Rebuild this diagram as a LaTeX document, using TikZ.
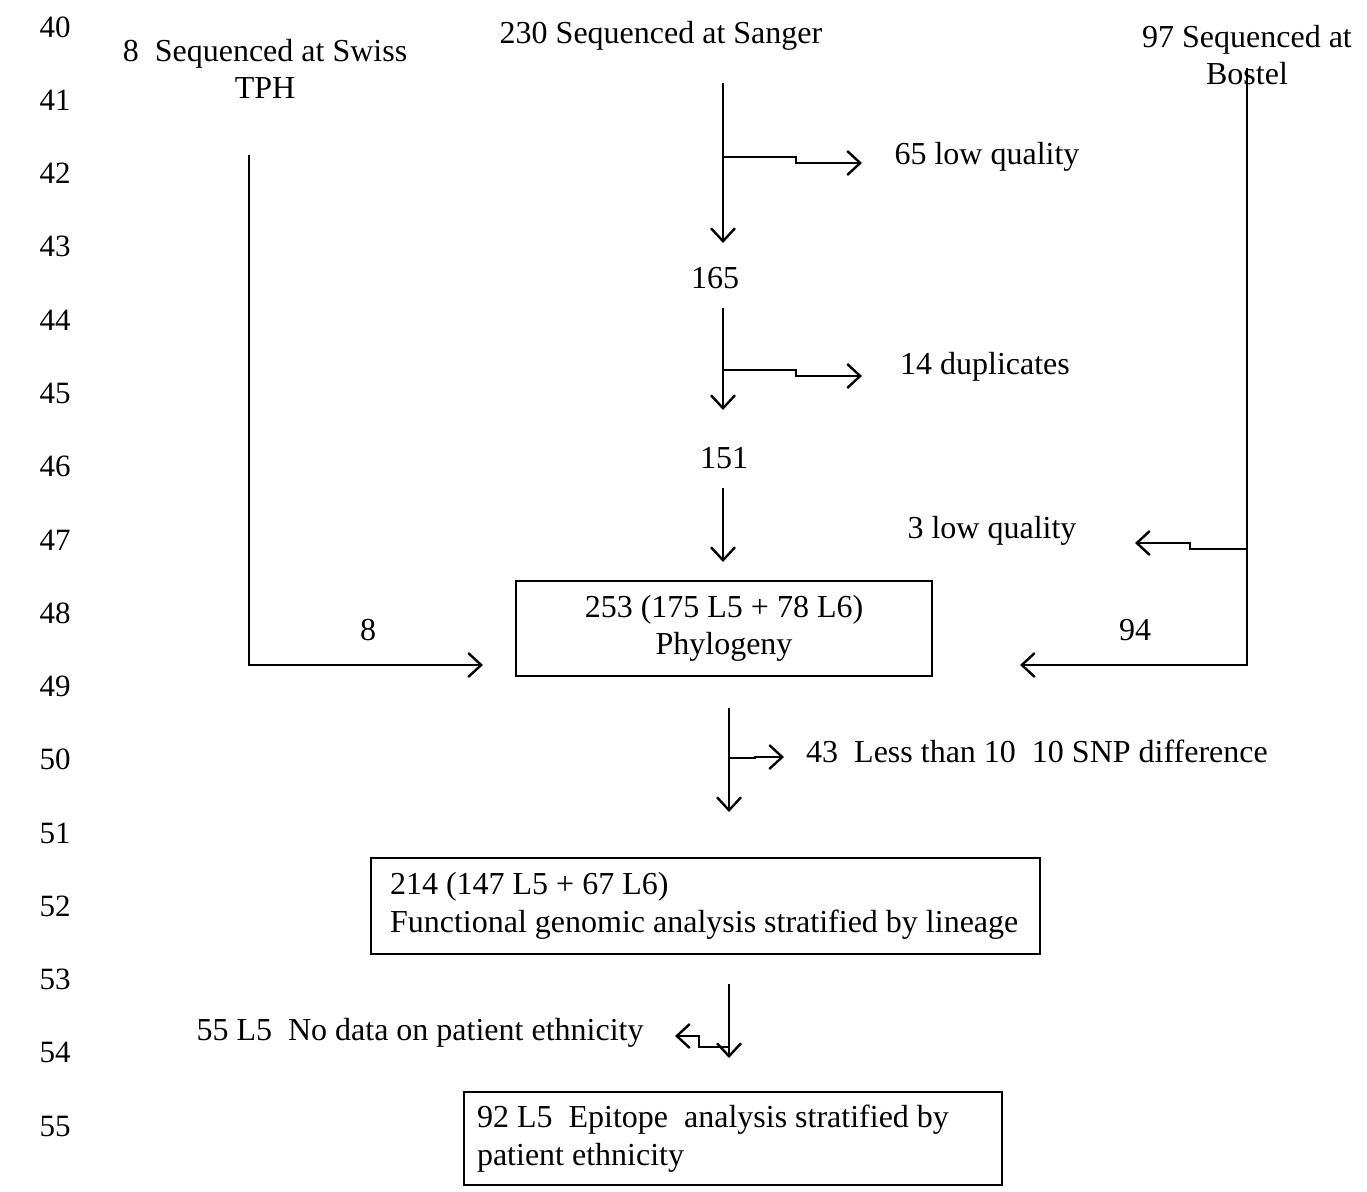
\documentclass[tikz,border=0pt]{standalone}
\usepackage{fontspec}
\setmainfont{Liberation Serif}
\usetikzlibrary{arrows.meta}
\begin{document}
\begin{tikzpicture}[x=1pt,y=-1pt,
  every node/.style={font=\fontsize{32}{37.5}\selectfont, inner sep=0pt},
  lnum/.style={font=\fontsize{31}{34}\selectfont},
  flowbox/.style={draw, line width=2pt},
  conn/.style={line width=2.4pt},
  arr/.style={conn, -{Straight Barb[length=13pt,width=24pt,line width=2.4pt]}}
]
\useasboundingbox (0,0) rectangle (1367,1191);
% line numbers
\foreach \n [count=\i from 0] in {40,...,55}{
  \node[lnum] (ln\n) at (55,{27+73.27*\i}) {\n};
}
% texts
\node[align=center] (swiss) at (265,69) {8\ \ Sequenced at Swiss\\TPH};
\node (sanger) at (661,36) {230 Sequenced at Sanger};
\node[align=center] (bostel) at (1247,55) {97 Sequenced at\\Bostel};
\node (lq65) at (987,157) {65 low quality};
\node (n165) at (715,278) {165};
\node (dup14) at (985,367) {14 duplicates};
\node (n151) at (724,458) {151};
\node (lq3) at (992,531) {3 low quality};
\node (l8) at (368,630) {8};
\node (l94) at (1135,630) {94};
\node (snp) at (1037,751) {43\ \ Less than 10\ \ 10 SNP difference};
\node (eth) at (420,1033) {55 L5\ \ No data on patient ethnicity};
% boxes
\node[flowbox, minimum width=416pt, minimum height=95pt, align=center] (phy) at (724,628.5) {253 (175 L5 + 78 L6)\\Phylogeny};
\node[flowbox, minimum width=669pt, minimum height=96pt, text width=631pt, align=flush left, inner xsep=19pt] (func) at (705.5,906) {214 (147 L5 + 67 L6)\\Functional genomic analysis stratified by lineage};
\node[flowbox, minimum width=538pt, minimum height=93pt, text width=512pt, align=flush left, inner xsep=13pt] (epi) at (733,1138.5) {92 L5\ \ Epitope\ \ analysis stratified by\\patient ethnicity};
% coordinates
\coordinate (s1) at (723,83);
\coordinate (e1) at (723,243);
\coordinate (b1) at (723,157);
\coordinate (s2) at (723,308);
\coordinate (e2) at (723,410);
\coordinate (b2) at (723,370);
\coordinate (s3) at (723,488);
\coordinate (e3) at (723,562);
\coordinate (sw) at (249,155);
\coordinate (swc) at (249,665);
\coordinate (swe) at (483,665);
\coordinate (bt) at (1247,68);
\coordinate (btc) at (1247,665);
\coordinate (bte) at (1020,665);
\coordinate (b3) at (1247,549);
\coordinate (s4) at (729,708);
\coordinate (e4) at (729,812);
\coordinate (b4) at (729,758);
\coordinate (s5) at (729,984);
\coordinate (e5) at (729,1058);
\coordinate (b5) at (729,1047);
% connectors
\draw[arr] (s1) -- (e1);
\draw[arr] (b1) -- (796,157) -- (796,163) -- (862,163);
\draw[arr] (s2) -- (e2);
\draw[arr] (b2) -- (796,370) -- (796,376) -- (862,376);
\draw[arr] (s3) -- (e3);
\draw[arr] (sw) -- (swc) -- (swe);
\draw[arr] (bt) -- (btc) -- (bte);
\draw[arr] (b3) -- (1190,549) -- (1190,543) -- (1135,543);
\draw[arr] (s4) -- (e4);
\draw[arr] (b4) -- (755,758) -- (755,757) -- (784,757);
\draw[arr] (s5) -- (e5);
\draw[arr] (b5) -- (699,1047) -- (699,1036) -- (675,1036);
\end{tikzpicture}
\end{document}
